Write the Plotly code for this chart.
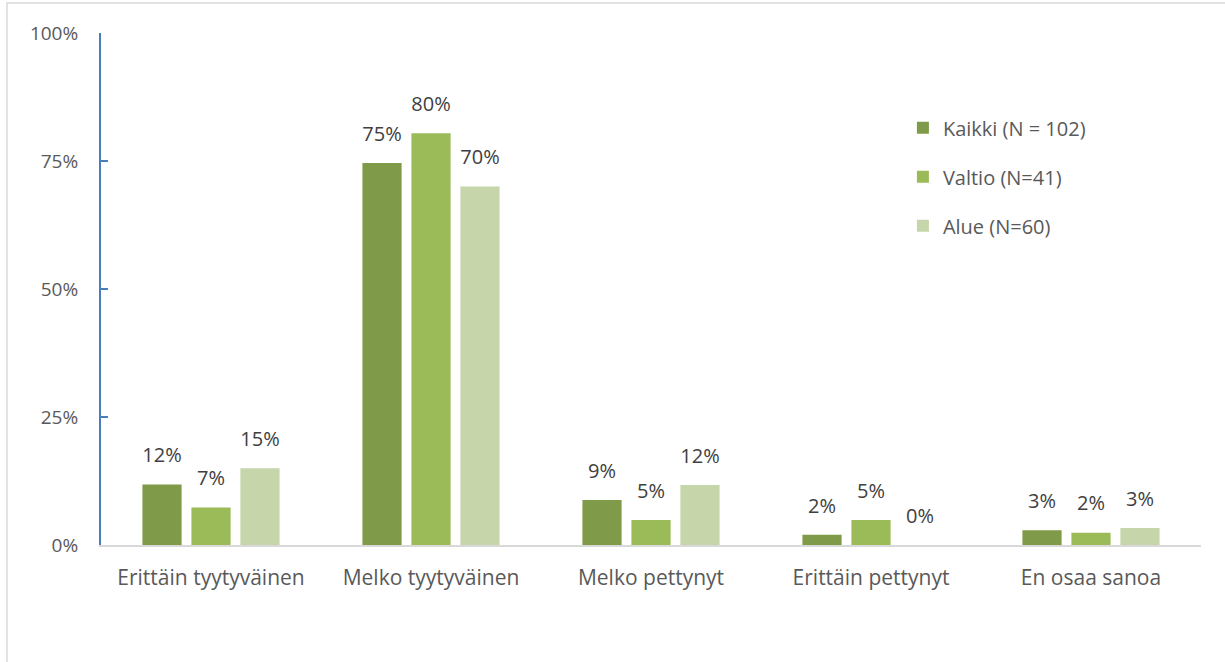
import plotly.graph_objects as go

# Tyytyväisyys kategorioittain
kategoriat = ['Erittäin tyytyväinen', 'Melko tyytyväinen', 'Melko pettynyt',
              'Erittäin pettynyt', 'En osaa sanoa']

kaikki = [0.118, 0.746, 0.088, 0.020, 0.029]
valtio = [0.073, 0.804, 0.049, 0.049, 0.024]
alue = [0.150, 0.700, 0.117, 0.000, 0.033]

sarjat = [
    ('Kaikki (N = 102)', kaikki, '#7f9a48'),
    ('Valtio (N=41)', valtio, '#9bbb59'),
    ('Alue (N=60)', alue, '#c6d5aa'),
]

fontti = 'Open Sans'
harmaa = '#595959'
fig = go.Figure()

for nimi, arvot, vari in sarjat:
    fig.add_trace(go.Bar(
        x=kategoriat, y=arvot, name=nimi, legendgroup=nimi,
        offsetgroup=nimi,
        marker=dict(color=vari, line=dict(width=0)),
        hoverinfo='skip',
    ))

# arvotekstit erillisinä (näkymättömät pisteet nostavat tekstiä ylemmäs)
for nimi, arvot, vari in sarjat:
    fig.add_trace(go.Scatter(
        x=kategoriat, y=arvot, mode='markers+text', showlegend=False,
        offsetgroup=nimi, legendgroup=nimi,
        marker=dict(size=26, opacity=0),
        text=[f'{v:.0%}' for v in arvot], textposition='top center',
        textfont=dict(family=fontti, size=20, color='#404040'),
        cliponaxis=False, hoverinfo='skip',
    ))

fig.update_layout(
    width=1225, height=662,
    paper_bgcolor='white', plot_bgcolor='white',
    margin=dict(l=101, r=24, t=33, b=117),
    barmode='group', bargap=0.332, bargroupgap=0.2,
    scattermode='group', scattergap=0.332,
    font=dict(family=fontti, size=20, color=harmaa),
    showlegend=True,
    legend=dict(
        x=0.729, y=0.853, xanchor='left', yanchor='top',
        font=dict(family=fontti, size=20, color=harmaa),
        tracegroupgap=20, itemwidth=30,
    ),
    shapes=[dict(
        type='rect', xref='paper', yref='paper',
        x0=-0.0855, x1=1.04, y0=-0.26, y1=1.0586,
        line=dict(color='#d9d9d9', width=1.5), layer='below',
    )],
)

fig.update_xaxes(
    showline=True, linecolor='#d9d9d9', linewidth=2,
    showgrid=False, ticks='', ticklabelstandoff=13,
    tickfont=dict(family=fontti, size=21, color=harmaa),
)
fig.update_yaxes(
    range=[0, 1], dtick=0.25, tickformat='.0%',
    showline=True, linecolor='#4a7ebb', linewidth=2,
    ticks='inside', ticklen=7, tickwidth=2, tickcolor='#4a7ebb',
    showgrid=False, zeroline=False, ticklabelstandoff=17,
    tickfont=dict(family=fontti, size=19, color=harmaa),
)

fig.write_html('out.html', config={'displayModeBar': False},
               post_script="document.body.style.margin='0';")
